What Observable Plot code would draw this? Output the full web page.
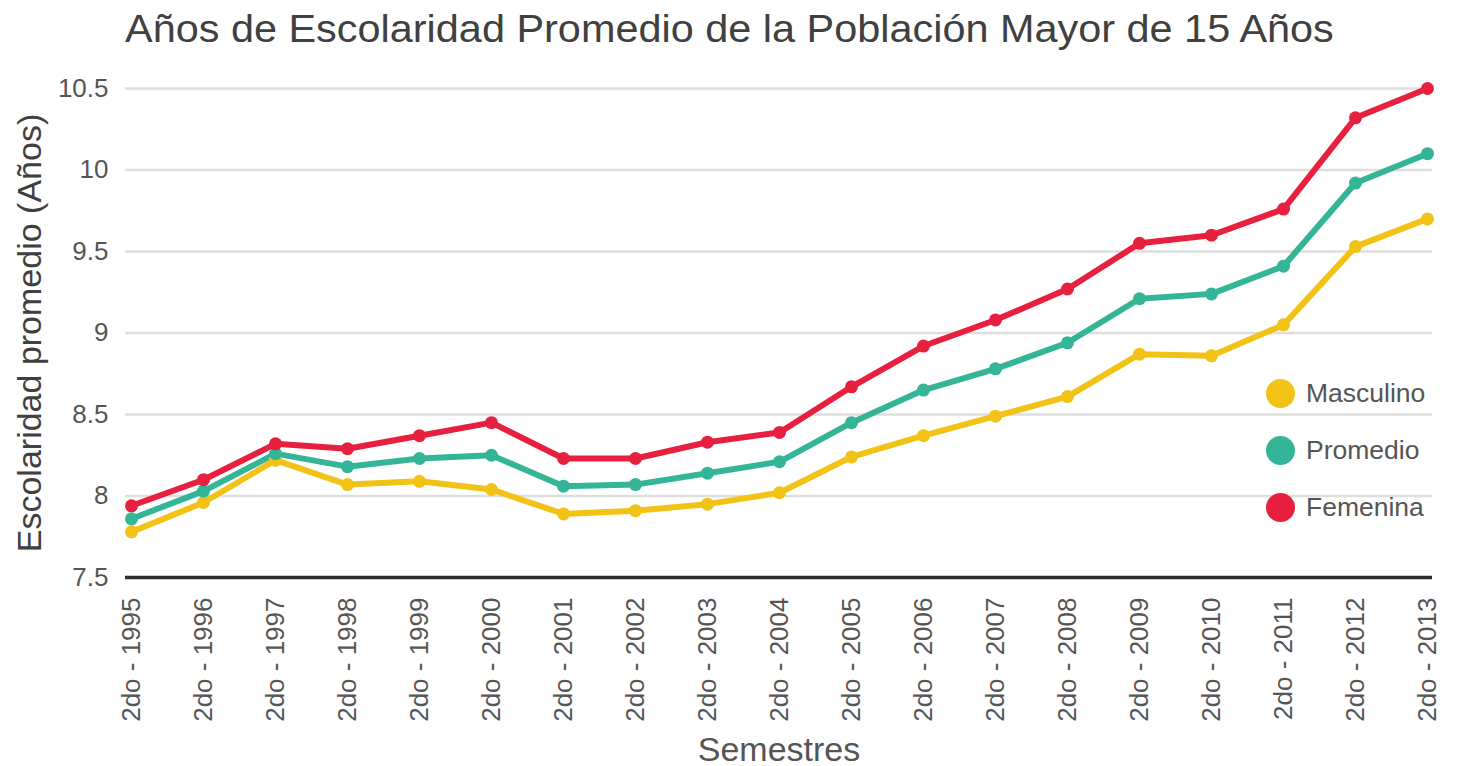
<!DOCTYPE html>
<html>
<head>
<meta charset="utf-8">
<script src="https://cdn.jsdelivr.net/npm/d3@7"></script>
<script src="https://cdn.jsdelivr.net/npm/@observablehq/plot@0.6"></script>
<style>
  body { margin: 0; background: #fff; font-family: "Liberation Sans", Arial, sans-serif; }
  #wrap { position: relative; width: 1463px; height: 766px; overflow: hidden; }
  #title { position: absolute; left: 125px; top: 10px; font-size: 38px; line-height: 1; color: #404040; white-space: nowrap; transform: scaleX(1.09); transform-origin: left top; }
  #chart { position: absolute; left: 0; top: 60px; }
  .item { position: absolute; left: 1266px; height: 30px; display: flex; align-items: center; }
  .sw { width: 29px; height: 29px; border-radius: 50%; display: inline-block; }
  .lab { margin-left: 11px; font-size: 26.5px; color: #555; line-height: 1; }
</style>
</head>
<body>
<div id="wrap">
  <div id="title"></div>
  <div id="chart"></div>
</div>
<script>
const titulo = "Años de Escolaridad Promedio de la Población Mayor de 15 Años";
const ejeY = "Escolaridad promedio (Años)";
const ejeX = "Semestres";
const semestres = ["2do - 1995","2do - 1996","2do - 1997","2do - 1998","2do - 1999","2do - 2000","2do - 2001","2do - 2002","2do - 2003","2do - 2004","2do - 2005","2do - 2006","2do - 2007","2do - 2008","2do - 2009","2do - 2010","2do - 2011","2do - 2012","2do - 2013"];
const masculino = [7.78,7.96,8.22,8.07,8.09,8.04,7.89,7.91,7.95,8.02,8.24,8.37,8.49,8.61,8.87,8.86,9.05,9.53,9.70];
const promedio  = [7.86,8.03,8.26,8.18,8.23,8.25,8.06,8.07,8.14,8.21,8.45,8.65,8.78,8.94,9.21,9.24,9.41,9.92,10.10];
const femenina  = [7.94,8.10,8.32,8.29,8.37,8.45,8.23,8.23,8.33,8.39,8.67,8.92,9.08,9.27,9.55,9.60,9.76,10.32,10.50];
const series = ["Masculino","Promedio","Femenina"];
const colores = ["#F2C316","#35B597","#E8203F"];
const yTicks = [7.5,8,8.5,9,9.5,10,10.5];

document.getElementById("title").textContent = titulo;

const valores = [masculino, promedio, femenina];
const data = [];
valores.forEach((vals, i) => vals.forEach((v, j) => data.push({serie: series[i], semestre: semestres[j], valor: v})));

const chart = Plot.plot({
  width: 1463,
  height: 706,
  marginTop: 28,
  marginBottom: 189,
  marginLeft: 125,
  marginRight: 31,
  style: {fontFamily: "'Liberation Sans', Arial, sans-serif", background: "#fff"},
  x: {type: "point", domain: semestres, padding: 0, axis: null},
  y: {domain: [7.5, 10.5], axis: null},
  color: {domain: series, range: colores},
  marks: [
    Plot.ruleY(yTicks.slice(1), {stroke: "#dedede", strokeWidth: 2.5}),
    Plot.ruleY([yTicks[0]], {stroke: "#2f2f2a", strokeWidth: 3.5}),
    Plot.axisY(yTicks, {tickSize: 0, tickPadding: 17, fontSize: 26, fill: "#555", label: null, tickFormat: d => String(d)}),
    Plot.axisX(semestres, {tickSize: 0, tickPadding: 20, tickRotate: -90, fontSize: 26, fill: "#555", label: null}),
    Plot.line(data, {x: "semestre", y: "valor", z: "serie", stroke: "serie", strokeWidth: 6}),
    Plot.dot(data, {x: "semestre", y: "valor", fill: "serie", r: 6.5}),
    Plot.text([ejeY], {text: d => d, frameAnchor: "left", textAnchor: "middle", lineAnchor: "middle", rotate: -90, dx: -95, fontSize: 34, fill: "#404040"}),
    Plot.text([ejeX], {text: d => d, frameAnchor: "bottom", textAnchor: "middle", lineAnchor: "bottom", dy: 183, fontSize: 34, fill: "#555"})
  ]
});
document.getElementById("chart").appendChild(chart);

const wrap = document.getElementById("wrap");
const centros = [393, 450, 507];
series.forEach((s, i) => {
  const it = document.createElement("div");
  it.className = "item";
  it.style.top = (centros[i] - 15) + "px";
  const sw = document.createElement("span");
  sw.className = "sw";
  sw.style.background = colores[i];
  const lab = document.createElement("span");
  lab.className = "lab";
  lab.textContent = s;
  it.appendChild(sw);
  it.appendChild(lab);
  wrap.appendChild(it);
});
</script>
</body>
</html>
